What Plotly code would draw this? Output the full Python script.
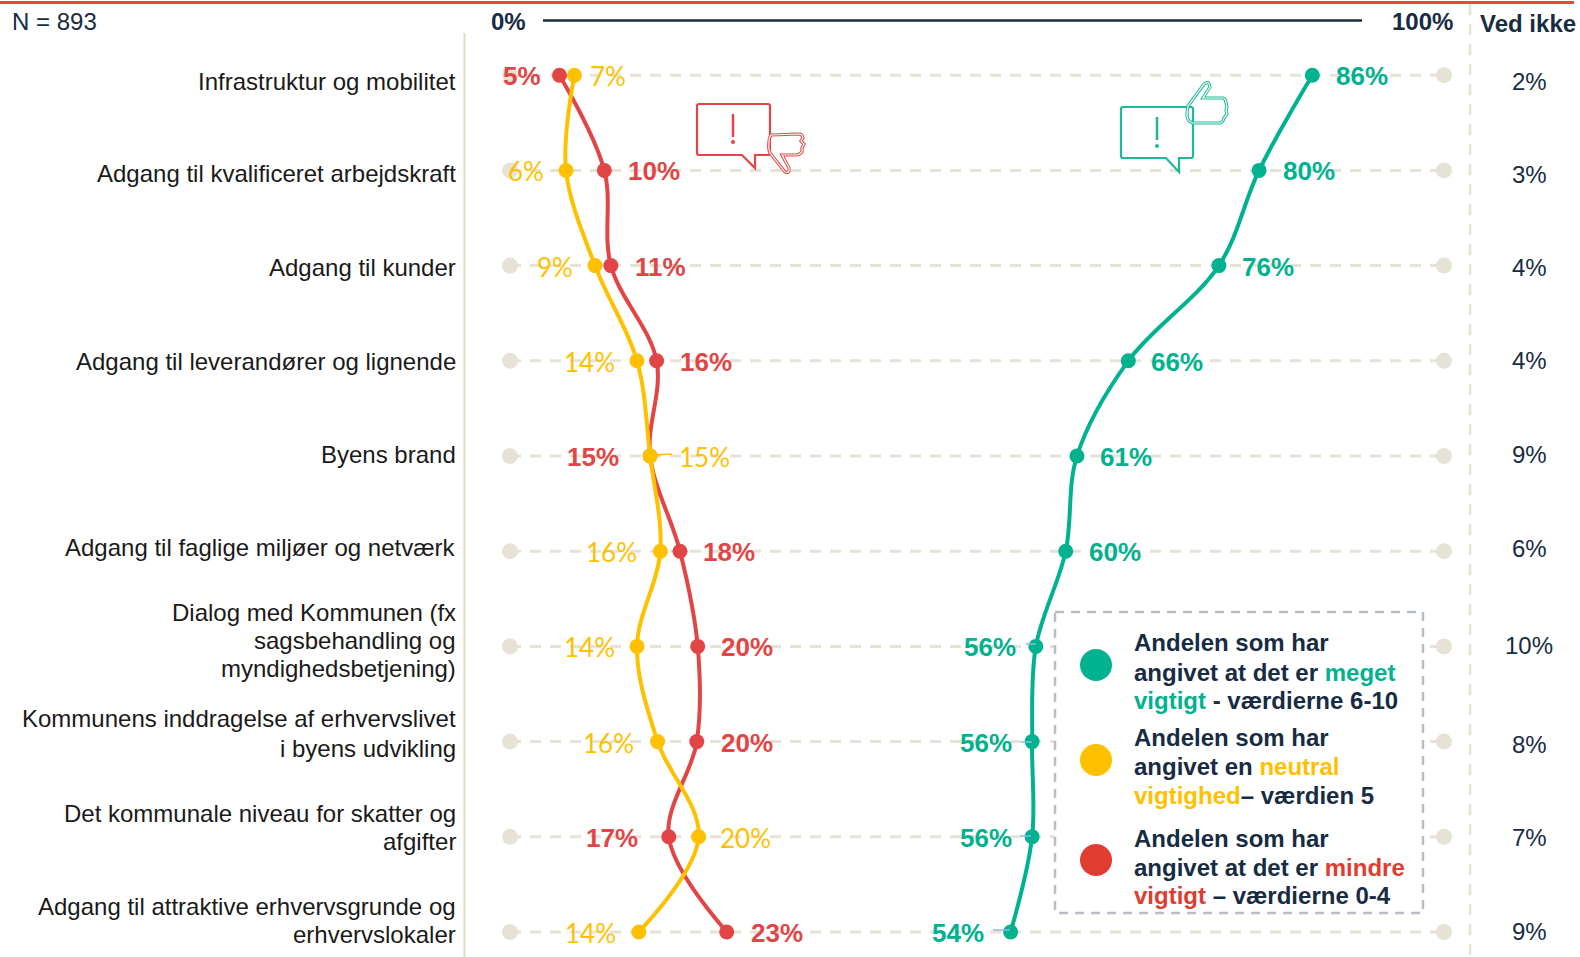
import plotly.graph_objects as go

categories = [
    ["Infrastruktur og mobilitet"],
    ["Adgang til kvalificeret arbejdskraft"],
    ["Adgang til kunder"],
    ["Adgang til leverandører og lignende"],
    ["Byens brand"],
    ["Adgang til faglige miljøer og netværk"],
    ["Dialog med Kommunen (fx", "sagsbehandling og", "myndighedsbetjening)"],
    ["Kommunens inddragelse af erhvervslivet", "i byens udvikling"],
    ["Det kommunale niveau for skatter og", "afgifter"],
    ["Adgang til attraktive erhvervsgrunde og", "erhvervslokaler"],
]
important = [85.9, 80.2, 75.9, 66.2, 60.7, 59.5, 56.3, 55.9, 55.9, 53.6]
neutral = [6.9, 6.0, 9.1, 13.6, 15.0, 16.1, 13.6, 15.8, 20.2, 13.8]
less_important = [5.3, 10.1, 10.8, 15.7, 15.0, 18.2, 20.1, 20.0, 17.0, 23.2]
dont_know = ["2%", "3%", "4%", "4%", "9%", "6%", "10%", "8%", "7%", "9%"]

# label placement (px from the marker), layout only
important_offset = [50, 50, 49, 49, 49, 49, -46, -46, -46, -53]
neutral_offset = [34, -40, -40, -48, 54, -49, -48, -49, 47, -48]
less_offset = [-38, 50, 50, 49, -57, 49, 49, 50, -57, 50]
cat_line_y = [[80.5], [172.5], [265.5], [358.5], [451.5], [543.5], [607.5, 635.5, 663.5], [713.5, 742.5], [807.5, 835.5], [899.5, 927.5]]
ved_y = [81, 173, 265, 358, 451, 544, 641, 739, 831, 924]

W, H = 1580, 957
S = 1580 / 1568
NAVY = "#172C43"
GREEN = "#00B28F"
RED = "#E24545"
LRED = "#E03C31"
YELLOW = "#FFC000"
BEIGE = "#E7E2D6"
AR = "Liberation Sans, Arial, sans-serif"

def px(x):
    return x / W

def py(y):
    return 1 - y / H

PX0, PX100 = 510, 1444
ROW0, ROWSTEP = 75.2, 95.2
n = len(categories)
rows = list(range(n))

fig = go.Figure()
for i in rows:
    fig.add_trace(go.Scatter(x=[0, 100], y=[i, i], mode="lines+markers",
                             line=dict(color=BEIGE, width=3, dash="11px,9px"),
                             marker=dict(color=BEIGE, size=16), hoverinfo="skip", showlegend=False))
fig.add_trace(go.Scatter(x=less_important, y=rows, mode="lines+markers", name="mindre vigtigt",
                         line=dict(color=RED, width=4, shape="spline", smoothing=1.0),
                         marker=dict(color=RED, size=15), showlegend=False))
fig.add_trace(go.Scatter(x=neutral, y=rows, mode="lines+markers", name="neutral",
                         line=dict(color=YELLOW, width=4, shape="spline", smoothing=1.0),
                         marker=dict(color=YELLOW, size=15), showlegend=False))
fig.add_trace(go.Scatter(x=important, y=rows, mode="lines+markers", name="meget vigtigt",
                         line=dict(color=GREEN, width=4, shape="spline", smoothing=1.0),
                         marker=dict(color=GREEN, size=15), showlegend=False))

ann = []
def text_px(x, y, t, size=24, color="#1A1A1A", anchor="left", bold=False, family=AR):
    if bold:
        t = f"<b>{t}</b>"
    ann.append(dict(xref="paper", yref="paper", x=px(x), y=py(y), text=t, showarrow=False,
                    xanchor=anchor, yanchor="middle", font=dict(size=size, color=color, family=family)))

def value_labels(vals, offs, color, bold, family, size):
    for i, (v, o) in enumerate(zip(vals, offs)):
        t = f"{round(v)}%"
        if bold:
            t = f"<b>{t}</b>"
        ann.append(dict(x=v, y=i, xref="x", yref="y", text=t, showarrow=False, xshift=o, yshift=-1,
                        xanchor="center", yanchor="middle", font=dict(size=size, color=color, family=family)))

value_labels(less_important, less_offset, RED, True, AR, 26)
value_labels(neutral, neutral_offset, YELLOW, False, "Lato, sans-serif", 26)
value_labels(important, important_offset, GREEN, True, AR, 26)

for lines, ys in zip(categories, cat_line_y):
    for t, y in zip(lines, ys):
        text_px(457.5, y * S, t, anchor="right")
for t, y in zip(dont_know, ved_y):
    text_px(1529, y * S, t, color=NAVY, anchor="center")

text_px(10, 22, "N = 893", color=NAVY)
text_px(489, 22, "0%", color=NAVY, bold=True)
text_px(1455, 22, "100%", color=NAVY, bold=True, anchor="right")
text_px(1478, 23, "Ved ikke", color=NAVY, bold=True)

def span(t, c):
    return f'<span style="color:{c}">{t}</span>'

legend_lines = [
    (638, "Andelen som har"),
    (667, "angivet at det er " + span("meget", GREEN)),
    (695, span("vigtigt", GREEN) + " - værdierne 6-10"),
    (732, "Andelen som har"),
    (761, "angivet en " + span("neutral", YELLOW)),
    (789, span("vigtighed", YELLOW) + "– værdien 5"),
    (832, "Andelen som har"),
    (861, "angivet at det er " + span("mindre", LRED)),
    (889, span("vigtigt", LRED) + " – værdierne 0-4"),
]
for y, t in legend_lines:
    text_px(1131.5, y * S, t, color=NAVY, bold=True)

shapes = []
def path(d, color, width=2, fill=None, layer="above"):
    s = dict(type="path", xref="paper", yref="paper", path=d, line=dict(color=color, width=width), layer=layer)
    if fill:
        s["fillcolor"] = fill
    shapes.append(s)

def P(points):
    """Point list -> SVG path in paper coordinates; tuples of 4 are quadratic segments."""
    out = []
    for i, p in enumerate(points):
        if len(p) == 2:
            out.append(("M" if i == 0 else "L") + f"{px(p[0]):.5f},{py(p[1]):.5f}")
        else:
            out.append(f"Q{px(p[0]):.5f},{py(p[1]):.5f} {px(p[2]):.5f},{py(p[3]):.5f}")
    return " ".join(out) + " Z"

def line_px(x0, y0, x1, y1, color, width=2, dash=None):
    shapes.append(dict(type="line", xref="paper", yref="paper", x0=px(x0), y0=py(y0), x1=px(x1), y1=py(y1),
                       line=dict(color=color, width=width, dash=dash or "solid"), layer="above"))

# frame lines
line_px(0, 2.5, 1574, 2.5, "#E24A3B", 3)
line_px(543, 20.5, 1362, 20.5, NAVY, 2.5)
line_px(464.5, 33, 464.5, 957, "#E3DAC6", 2)
line_px(1470, 4, 1470, 957, BEIGE, 2.5, "11px,9px")

# small leader lines
for x0, x1, y in [(1026, 1036, 644), (1021, 1032, 742), (1020, 1031, 836), (993, 1010, 930)]:
    line_px(x0, y, x1, y, "#8DB9DC", 1.5)
line_px(655, 455, 672, 454, YELLOW, 1.5)

# legend box
shapes.append(dict(type="rect", xref="paper", yref="paper", x0=px(1055), y0=py(612), x1=px(1423), y1=py(913),
                   fillcolor="white", line=dict(color="#B8BEC6", width=2.5, dash="9px,7px"), layer="above"))
for cy, c in [(665, GREEN), (760, YELLOW), (860, LRED)]:
    shapes.append(dict(type="circle", xref="paper", yref="paper", x0=px(1080), x1=px(1112), y0=py(cy - 16), y1=py(cy + 16),
                       fillcolor=c, line=dict(width=0), layer="above"))

# speech bubble + thumb icons
def bubble(x0, y0, x1, y1, tx0, tx1, ty, ex, ey0, ey1, dy, c):
    path(P([(x0 + 2, y0), (x1 - 2, y0), (x1, y0, x1, y0 + 2), (x1, y1 - 2), (x1, y1, x1 - 2, y1), (tx1, y1), (tx1, ty), (tx0, y1),
            (x0 + 2, y1), (x0, y1, x0, y1 - 2), (x0, y0 + 2), (x0, y0, x0 + 2, y0)]), c, 2.2)
    line_px(ex, ey0, ex, ey1, c, 2.5)
    shapes.append(dict(type="circle", xref="paper", yref="paper", x0=px(ex - 2), x1=px(ex + 2), y0=py(dy - 2), y1=py(dy + 2),
                       fillcolor=c, line=dict(width=0), layer="above"))

thumb_down = [(771, 135), (799, 134), (802, 134, 803, 138), (801, 141), (804, 144), (802, 148), (802, 152), (799, 155, 796, 155),
              (782, 155), (789, 168), (790, 174, 785, 172), (770, 153), (768, 148, 769, 142), (769, 137, 771, 135)]
thumb_up = [(1188, 106), (1204, 84), (1209, 80, 1210, 87), (1203, 98), (1223, 98), (1226, 99, 1226, 103), (1227, 107), (1226, 110),
            (1227, 114), (1224, 118), (1223, 123, 1219, 123), (1193, 123), (1188, 122, 1187, 116), (1187, 110, 1188, 106)]

bubble(697, 104, 770, 155, 742, 755, 168, 733, 114, 137, 142, RED)
path(P(thumb_down), RED, 3.2, "rgba(255,255,255,0)")
path(P(thumb_down), "white", 1.2)
bubble(1121, 107, 1193, 158, 1166, 1179, 172, 1157, 117, 140, 146, "#1DB99A")
path(P(thumb_up), "#1DB99A", 3.2, "rgba(255,255,255,0)")
path(P(thumb_up), "white", 1.2)

sx = (PX100 - PX0) / 100
fig.update_layout(
    width=W, height=H, margin=dict(l=0, r=0, t=0, b=0), paper_bgcolor="white", plot_bgcolor="white",
    xaxis=dict(range=[-PX0 / sx, (W - PX0) / sx], visible=False, fixedrange=True),
    yaxis=dict(range=[(H - ROW0) / ROWSTEP, -ROW0 / ROWSTEP], visible=False, fixedrange=True),
    annotations=ann, shapes=shapes, showlegend=False,
)
fig.write_html("out.html", config=dict(displayModeBar=False),
               post_script="document.body.style.margin='0';document.body.style.background='white';")
